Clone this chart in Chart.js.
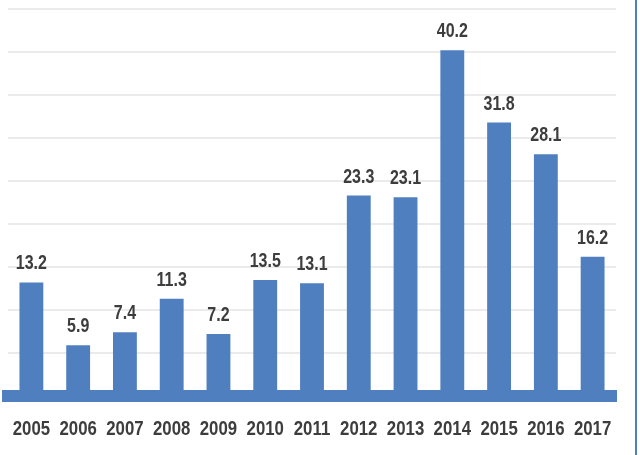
<!DOCTYPE html>
<html>
<head>
<meta charset="utf-8">
<script src="https://cdn.jsdelivr.net/npm/chart.js@4.4.2/dist/chart.umd.min.js"></script>
<style>
  html, body { margin: 0; padding: 0; background: #fff; }
  .wrap { position: relative; width: 640px; height: 455px; }
  .edge { position: absolute; left: 635px; top: 0; width: 2px; height: 455px; background: #4F7FBF; }
</style>
</head>
<body>
<div class="wrap">
  <canvas id="chart" width="640" height="455"></canvas>
  <div class="edge"></div>
</div>
<script>
// Yearly values
const YEARS = ['2005', '2006', '2007', '2008', '2009', '2010', '2011', '2012', '2013', '2014', '2015', '2016', '2017'];
const VALUES = [13.2, 5.9, 7.4, 11.3, 7.2, 13.5, 13.1, 23.3, 23.1, 40.2, 31.8, 28.1, 16.2];

const BAR_COLOR = '#4F7FBF';
const TEXT_COLOR = '#3d3d3d';
const FONT = '"Liberation Sans", Arial, sans-serif';
const SQUEEZE = 0.8; // the original uses a narrow font

function narrowText(ctx, text, x, y) {
  ctx.save();
  ctx.translate(x, y);
  ctx.scale(SQUEEZE, 1);
  ctx.fillText(text, 0, 0);
  ctx.restore();
}

// value labels above the bars + year labels under the axis
const narrowLabels = {
  id: 'narrowLabels',
  afterDatasetsDraw(chart) {
    const { ctx } = chart;
    const meta = chart.getDatasetMeta(0);
    const xScale = chart.scales.x;
    ctx.save();
    ctx.fillStyle = TEXT_COLOR;
    ctx.textAlign = 'center';
    ctx.textBaseline = 'alphabetic';
    ctx.font = `bold 20px ${FONT}`;
    meta.data.forEach((bar, i) => {
      narrowText(ctx, VALUES[i].toFixed(1), bar.x, bar.y - 13);
    });
    ctx.font = `bold 21px ${FONT}`;
    YEARS.forEach((y, i) => {
      narrowText(ctx, y, xScale.getPixelForTick(i), 435);
    });
    ctx.restore();
  },
};

new Chart(document.getElementById('chart'), {
  type: 'bar',
  data: {
    labels: YEARS,
    datasets: [{
      data: VALUES,
      backgroundColor: BAR_COLOR,
      barPercentage: 0.51,
      categoryPercentage: 1,
    }],
  },
  options: {
    responsive: false,
    animation: false,
    layout: { padding: { left: 8, right: 24, top: 9, bottom: 0 } },
    plugins: { legend: { display: false }, tooltip: { enabled: false } },
    scales: {
      x: {
        grid: { display: false },
        border: { display: true, color: BAR_COLOR, width: 12 },
        ticks: { display: false, autoSkip: false },
        afterFit(scale) { scale.height = 59; },
      },
      y: {
        min: 0, max: 45,
        ticks: { display: false, stepSize: 5 },
        grid: { color: '#ebebeb', lineWidth: 2, drawTicks: false },
        border: { display: false },
        afterFit(scale) { scale.width = 0; },
      },
    },
  },
  plugins: [narrowLabels],
});
</script>
</body>
</html>
